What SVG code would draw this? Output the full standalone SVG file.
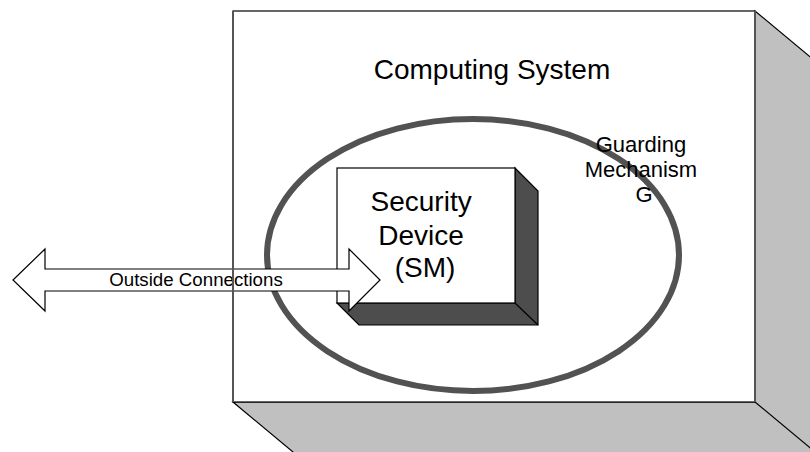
<svg xmlns="http://www.w3.org/2000/svg" width="810" height="452" viewBox="0 0 810 452">
  <style>
    .lbl { font-family: "Liberation Sans", Arial, Helvetica, sans-serif; fill: #000; text-anchor: middle; }
    .edge { stroke: #000; stroke-width: 1.2; stroke-linejoin: miter; }
    .side-edge { stroke: #555; stroke-width: 2; fill: none; }
  </style>

  <!-- Outer computing system: white front face with light grey extrusion -->
  <g id="computing-system">
    <polygon class="edge" fill="#c0c0c0" points="755,11 875,111 875,502 353,502 233,402 755,402"/>
    <line class="edge" x1="755" y1="402" x2="875" y2="502"/>
    <rect class="edge" fill="#fff" x="233" y="11" width="522" height="391"/>
    <line class="side-edge" x1="755" y1="11" x2="755" y2="402"/>
    <text class="lbl" x="492" y="79" font-size="28">Computing System</text>
  </g>

  <!-- Guarding mechanism ring -->
  <g id="guarding-mechanism">
    <ellipse cx="473" cy="255" rx="206" ry="136" fill="none" stroke="#525252" stroke-width="6"/>
  </g>

  <!-- Security device block with dark extrusion -->
  <g id="security-device">
    <polygon class="edge" fill="#4d4d4d" points="515,168 538,191 538,325 359,325 337,303 515,303"/>
    <line class="edge" x1="515" y1="303" x2="538" y2="325"/>
    <rect class="edge" fill="#fff" x="337" y="168" width="178" height="135"/>
    <text class="lbl" font-size="28">
      <tspan x="425" y="211">Security</tspan>
      <tspan x="425" y="245">Device</tspan>
      <tspan x="425" y="277">(SM)</tspan>
    </text>
  </g>

  <!-- Double-headed block arrow for outside connections -->
  <g id="connectors">
    <g id="outside-connections">
      <polygon class="edge" fill="#fff" stroke-width="1"
        points="13,280 45,249 45,269 349,269 349,249 380,280 349,311 349,291 45,291 45,311"/>
      <text class="lbl" x="196" y="286" font-size="18.7">Outside Connections</text>
    </g>
  </g>

  <!-- Left edge of the outer box stays visible across the arrow -->
  <line class="side-edge" x1="233" y1="11" x2="233" y2="402"/>

  <g id="guarding-label">
    <text class="lbl" font-size="22">
      <tspan x="644" y="152">Guarding</tspan>
      <tspan x="644" y="177">Mechanism</tspan>
      <tspan x="644" y="202">G</tspan>
    </text>
  </g>
</svg>
